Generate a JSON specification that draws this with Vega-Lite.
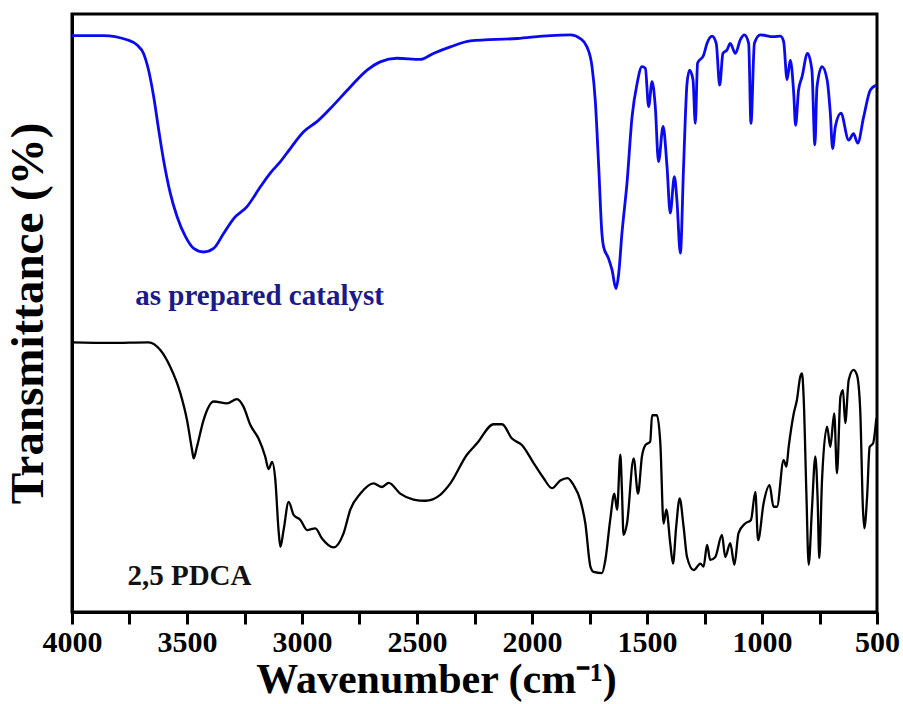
{
  "$schema": "https://vega.github.io/schema/vega-lite/v6.json",
  "width": 805,
  "height": 598,
  "autosize": {"type": "none"},
  "padding": {"left": 72, "top": 14, "right": 26, "bottom": 92},
  "background": "white",
  "config": {"view": {"stroke": "black", "strokeWidth": 3}, "font": "Liberation Serif"},
  "datasets": {
    "spectra": [
      {"sample":"catalyst","wn":4000,"t":96.4},{"sample":"catalyst","wn":3864,"t":96.4},{"sample":"catalyst","wn":3761,"t":95.7},{"sample":"catalyst","wn":3717,"t":94.8},{"sample":"catalyst","wn":3689,"t":93.4},{"sample":"catalyst","wn":3667,"t":90.6},{"sample":"catalyst","wn":3645,"t":86.2},{"sample":"catalyst","wn":3623,"t":80.6},{"sample":"catalyst","wn":3602,"t":75.6},{"sample":"catalyst","wn":3573,"t":70.1},{"sample":"catalyst","wn":3543,"t":66.1},{"sample":"catalyst","wn":3507,"t":62.8},{"sample":"catalyst","wn":3471,"t":60.8},{"sample":"catalyst","wn":3428,"t":60.2},{"sample":"catalyst","wn":3384,"t":60.8},{"sample":"catalyst","wn":3341,"t":63.3},{"sample":"catalyst","wn":3297,"t":65.8},{"sample":"catalyst","wn":3239,"t":67.8},{"sample":"catalyst","wn":3181,"t":71.1},{"sample":"catalyst","wn":3138,"t":73.4},{"sample":"catalyst","wn":3094,"t":75.3},{"sample":"catalyst","wn":3051,"t":77.5},{"sample":"catalyst","wn":2993,"t":80.3},{"sample":"catalyst","wn":2935,"t":82.0},{"sample":"catalyst","wn":2877,"t":84.2},{"sample":"catalyst","wn":2790,"t":87.8},{"sample":"catalyst","wn":2717,"t":90.6},{"sample":"catalyst","wn":2660,"t":92.0},{"sample":"catalyst","wn":2587,"t":92.6},{"sample":"catalyst","wn":2486,"t":92.4},{"sample":"catalyst","wn":2429,"t":93.4},{"sample":"catalyst","wn":2355,"t":94.5},{"sample":"catalyst","wn":2268,"t":95.5},{"sample":"catalyst","wn":2065,"t":95.9},{"sample":"catalyst","wn":1920,"t":96.4},{"sample":"catalyst","wn":1833,"t":96.5},{"sample":"catalyst","wn":1790,"t":95.9},{"sample":"catalyst","wn":1761,"t":94.5},{"sample":"catalyst","wn":1739,"t":91.2},{"sample":"catalyst","wn":1725,"t":85.6},{"sample":"catalyst","wn":1710,"t":74.5},{"sample":"catalyst","wn":1696,"t":63.3},{"sample":"catalyst","wn":1689,"t":61.1},{"sample":"catalyst","wn":1667,"t":59.1},{"sample":"catalyst","wn":1652,"t":57.2},{"sample":"catalyst","wn":1635,"t":54.1},{"sample":"catalyst","wn":1623,"t":56.6},{"sample":"catalyst","wn":1609,"t":63.3},{"sample":"catalyst","wn":1587,"t":71.7},{"sample":"catalyst","wn":1565,"t":82.8},{"sample":"catalyst","wn":1543,"t":88.4},{"sample":"catalyst","wn":1522,"t":91.2},{"sample":"catalyst","wn":1507,"t":90.9},{"sample":"catalyst","wn":1493,"t":84.5},{"sample":"catalyst","wn":1478,"t":88.7},{"sample":"catalyst","wn":1464,"t":84.5},{"sample":"catalyst","wn":1450,"t":75.3},{"sample":"catalyst","wn":1430,"t":81.2},{"sample":"catalyst","wn":1413,"t":74.5},{"sample":"catalyst","wn":1399,"t":66.7},{"sample":"catalyst","wn":1381,"t":72.8},{"sample":"catalyst","wn":1370,"t":68.9},{"sample":"catalyst","wn":1355,"t":60.0},{"sample":"catalyst","wn":1341,"t":74.5},{"sample":"catalyst","wn":1326,"t":88.4},{"sample":"catalyst","wn":1315,"t":90.6},{"sample":"catalyst","wn":1300,"t":89.0},{"sample":"catalyst","wn":1290,"t":81.7},{"sample":"catalyst","wn":1280,"t":91.8},{"sample":"catalyst","wn":1254,"t":93.1},{"sample":"catalyst","wn":1239,"t":95.1},{"sample":"catalyst","wn":1217,"t":96.3},{"sample":"catalyst","wn":1199,"t":95.1},{"sample":"catalyst","wn":1184,"t":88.1},{"sample":"catalyst","wn":1170,"t":93.4},{"sample":"catalyst","wn":1152,"t":94.0},{"sample":"catalyst","wn":1138,"t":95.1},{"sample":"catalyst","wn":1116,"t":93.4},{"sample":"catalyst","wn":1094,"t":95.7},{"sample":"catalyst","wn":1077,"t":96.5},{"sample":"catalyst","wn":1058,"t":95.1},{"sample":"catalyst","wn":1048,"t":81.7},{"sample":"catalyst","wn":1033,"t":95.1},{"sample":"catalyst","wn":1007,"t":96.5},{"sample":"catalyst","wn":950,"t":96.2},{"sample":"catalyst","wn":920,"t":96.3},{"sample":"catalyst","wn":906,"t":95.4},{"sample":"catalyst","wn":891,"t":89.0},{"sample":"catalyst","wn":877,"t":92.3},{"sample":"catalyst","wn":862,"t":86.7},{"sample":"catalyst","wn":854,"t":81.4},{"sample":"catalyst","wn":841,"t":87.3},{"sample":"catalyst","wn":826,"t":89.5},{"sample":"catalyst","wn":802,"t":93.4},{"sample":"catalyst","wn":783,"t":90.6},{"sample":"catalyst","wn":770,"t":78.1},{"sample":"catalyst","wn":761,"t":87.8},{"sample":"catalyst","wn":739,"t":91.2},{"sample":"catalyst","wn":717,"t":89.0},{"sample":"catalyst","wn":703,"t":83.4},{"sample":"catalyst","wn":693,"t":77.5},{"sample":"catalyst","wn":681,"t":81.2},{"sample":"catalyst","wn":657,"t":83.4},{"sample":"catalyst","wn":623,"t":78.9},{"sample":"catalyst","wn":602,"t":80.0},{"sample":"catalyst","wn":584,"t":78.4},{"sample":"catalyst","wn":558,"t":82.8},{"sample":"catalyst","wn":529,"t":87.3},{"sample":"catalyst","wn":503,"t":88.1},
      {"sample":"PDCA","wn":4000,"t":45.1},{"sample":"PDCA","wn":3833,"t":45.0},{"sample":"PDCA","wn":3667,"t":45.1},{"sample":"PDCA","wn":3616,"t":43.8},{"sample":"PDCA","wn":3573,"t":41.0},{"sample":"PDCA","wn":3529,"t":36.6},{"sample":"PDCA","wn":3500,"t":32.1},{"sample":"PDCA","wn":3478,"t":27.1},{"sample":"PDCA","wn":3471,"t":25.7},{"sample":"PDCA","wn":3457,"t":27.6},{"sample":"PDCA","wn":3428,"t":32.1},{"sample":"PDCA","wn":3384,"t":35.2},{"sample":"PDCA","wn":3326,"t":34.9},{"sample":"PDCA","wn":3283,"t":35.6},{"sample":"PDCA","wn":3254,"t":34.3},{"sample":"PDCA","wn":3225,"t":31.3},{"sample":"PDCA","wn":3189,"t":29.0},{"sample":"PDCA","wn":3160,"t":26.0},{"sample":"PDCA","wn":3145,"t":23.9},{"sample":"PDCA","wn":3130,"t":25.1},{"sample":"PDCA","wn":3116,"t":22.1},{"sample":"PDCA","wn":3102,"t":13.7},{"sample":"PDCA","wn":3094,"t":10.9},{"sample":"PDCA","wn":3080,"t":13.7},{"sample":"PDCA","wn":3058,"t":18.4},{"sample":"PDCA","wn":3036,"t":16.2},{"sample":"PDCA","wn":3007,"t":15.4},{"sample":"PDCA","wn":2978,"t":13.7},{"sample":"PDCA","wn":2942,"t":14.0},{"sample":"PDCA","wn":2913,"t":12.3},{"sample":"PDCA","wn":2863,"t":10.8},{"sample":"PDCA","wn":2819,"t":13.2},{"sample":"PDCA","wn":2790,"t":17.1},{"sample":"PDCA","wn":2746,"t":19.8},{"sample":"PDCA","wn":2689,"t":21.5},{"sample":"PDCA","wn":2652,"t":20.9},{"sample":"PDCA","wn":2623,"t":21.6},{"sample":"PDCA","wn":2573,"t":19.8},{"sample":"PDCA","wn":2515,"t":18.8},{"sample":"PDCA","wn":2464,"t":18.6},{"sample":"PDCA","wn":2399,"t":19.6},{"sample":"PDCA","wn":2355,"t":21.5},{"sample":"PDCA","wn":2283,"t":26.3},{"sample":"PDCA","wn":2239,"t":28.2},{"sample":"PDCA","wn":2167,"t":31.4},{"sample":"PDCA","wn":2130,"t":31.4},{"sample":"PDCA","wn":2087,"t":29.0},{"sample":"PDCA","wn":2043,"t":27.9},{"sample":"PDCA","wn":1993,"t":24.9},{"sample":"PDCA","wn":1950,"t":22.4},{"sample":"PDCA","wn":1913,"t":20.7},{"sample":"PDCA","wn":1877,"t":22.0},{"sample":"PDCA","wn":1845,"t":22.4},{"sample":"PDCA","wn":1819,"t":21.2},{"sample":"PDCA","wn":1790,"t":18.7},{"sample":"PDCA","wn":1768,"t":14.8},{"sample":"PDCA","wn":1746,"t":7.6},{"sample":"PDCA","wn":1732,"t":6.7},{"sample":"PDCA","wn":1696,"t":6.5},{"sample":"PDCA","wn":1681,"t":8.7},{"sample":"PDCA","wn":1660,"t":15.4},{"sample":"PDCA","wn":1642,"t":19.8},{"sample":"PDCA","wn":1630,"t":17.1},{"sample":"PDCA","wn":1616,"t":26.3},{"sample":"PDCA","wn":1609,"t":20.4},{"sample":"PDCA","wn":1602,"t":12.9},{"sample":"PDCA","wn":1587,"t":14.8},{"sample":"PDCA","wn":1558,"t":25.7},{"sample":"PDCA","wn":1539,"t":19.8},{"sample":"PDCA","wn":1522,"t":26.0},{"sample":"PDCA","wn":1507,"t":27.9},{"sample":"PDCA","wn":1486,"t":28.5},{"sample":"PDCA","wn":1478,"t":32.9},{"sample":"PDCA","wn":1457,"t":32.9},{"sample":"PDCA","wn":1442,"t":28.2},{"sample":"PDCA","wn":1428,"t":14.8},{"sample":"PDCA","wn":1416,"t":17.1},{"sample":"PDCA","wn":1399,"t":11.5},{"sample":"PDCA","wn":1387,"t":8.1},{"sample":"PDCA","wn":1373,"t":14.3},{"sample":"PDCA","wn":1358,"t":19.0},{"sample":"PDCA","wn":1341,"t":14.3},{"sample":"PDCA","wn":1326,"t":9.2},{"sample":"PDCA","wn":1297,"t":7.0},{"sample":"PDCA","wn":1268,"t":8.1},{"sample":"PDCA","wn":1254,"t":7.6},{"sample":"PDCA","wn":1239,"t":11.2},{"sample":"PDCA","wn":1225,"t":8.7},{"sample":"PDCA","wn":1203,"t":9.2},{"sample":"PDCA","wn":1174,"t":12.9},{"sample":"PDCA","wn":1160,"t":9.2},{"sample":"PDCA","wn":1138,"t":11.5},{"sample":"PDCA","wn":1120,"t":7.9},{"sample":"PDCA","wn":1102,"t":13.2},{"sample":"PDCA","wn":1073,"t":14.8},{"sample":"PDCA","wn":1048,"t":15.4},{"sample":"PDCA","wn":1029,"t":20.1},{"sample":"PDCA","wn":1017,"t":12.0},{"sample":"PDCA","wn":993,"t":18.2},{"sample":"PDCA","wn":967,"t":21.2},{"sample":"PDCA","wn":950,"t":17.6},{"sample":"PDCA","wn":935,"t":17.6},{"sample":"PDCA","wn":906,"t":25.4},{"sample":"PDCA","wn":894,"t":24.3},{"sample":"PDCA","wn":884,"t":27.6},{"sample":"PDCA","wn":862,"t":33.2},{"sample":"PDCA","wn":848,"t":35.5},{"sample":"PDCA","wn":834,"t":39.3},{"sample":"PDCA","wn":826,"t":39.9},{"sample":"PDCA","wn":819,"t":36.0},{"sample":"PDCA","wn":807,"t":19.8},{"sample":"PDCA","wn":797,"t":7.9},{"sample":"PDCA","wn":783,"t":17.1},{"sample":"PDCA","wn":768,"t":26.0},{"sample":"PDCA","wn":758,"t":18.7},{"sample":"PDCA","wn":751,"t":9.0},{"sample":"PDCA","wn":739,"t":22.1},{"sample":"PDCA","wn":717,"t":31.0},{"sample":"PDCA","wn":703,"t":27.6},{"sample":"PDCA","wn":686,"t":33.2},{"sample":"PDCA","wn":674,"t":23.2},{"sample":"PDCA","wn":659,"t":36.0},{"sample":"PDCA","wn":648,"t":37.1},{"sample":"PDCA","wn":638,"t":31.6},{"sample":"PDCA","wn":623,"t":38.8},{"sample":"PDCA","wn":602,"t":40.5},{"sample":"PDCA","wn":587,"t":39.6},{"sample":"PDCA","wn":573,"t":33.8},{"sample":"PDCA","wn":561,"t":17.1},{"sample":"PDCA","wn":555,"t":14.0},{"sample":"PDCA","wn":543,"t":19.3},{"sample":"PDCA","wn":532,"t":27.6},{"sample":"PDCA","wn":517,"t":28.2},{"sample":"PDCA","wn":503,"t":32.4}
    ],
    "labels": [
      {"label": "as prepared catalyst", "wn": 3725, "t": 51.3},
      {"label": "2,5 PDCA", "wn": 3759, "t": 4.5}
    ]
  },
  "layer": [
    {
      "data": {"name": "spectra"},
      "mark": {"type": "line", "interpolate": "monotone"},
      "encoding": {
        "x": {
          "field": "wn", "type": "quantitative",
          "scale": {"domain": [500, 4000], "reverse": true, "nice": false, "zero": false},
          "axis": {
            "values": [4000, 3750, 3500, 3250, 3000, 2750, 2500, 2250, 2000, 1750, 1500, 1250, 1000, 750, 500],
            "format": "d",
            "labelExpr": "datum.value % 500 === 0 ? datum.label : ''",
            "labelFont": "Liberation Serif", "labelFontWeight": "bold", "labelFontSize": 30, "labelColor": "black",
            "labelPadding": 3, "labelOverlap": false, "labelFlush": false,
            "tickColor": "black", "tickWidth": 3, "tickSize": 12,
            "domainColor": "black", "domainWidth": 3, "grid": false,
            "title": "Wavenumber (cm⁻¹)",
            "titleFont": "Liberation Serif", "titleFontWeight": "bold", "titleFontSize": 42, "titleColor": "black",
            "titleX": 364, "titleY": 80, "titleBaseline": "alphabetic", "titleAlign": "center",
            "encode": {"ticks": {"update": {"y2": {"signal": "datum.value % 500 === 0 ? 12 : 8"}}}}
          }
        },
        "y": {
          "field": "t", "type": "quantitative",
          "scale": {"domain": [0, 100], "nice": false},
          "axis": {
            "title": "Transmittance (%)", "ticks": false, "labels": false, "grid": false,
            "domainColor": "black", "domainWidth": 3,
            "titleFont": "Liberation Serif", "titleFontWeight": "bold", "titleFontSize": 47, "titleColor": "black",
            "titlePadding": 20
          }
        },
        "color": {"field": "sample", "type": "nominal", "scale": {"domain": ["catalyst", "PDCA"], "range": ["#0a0af0", "#000000"]}, "legend": null},
        "strokeWidth": {"field": "sample", "type": "nominal", "scale": {"domain": ["catalyst", "PDCA"], "range": [2.8, 2.3]}, "legend": null}
      }
    },
    {
      "data": {"name": "labels"},
      "transform": [{"filter": "datum.label === 'as prepared catalyst'"}],
      "mark": {"type": "text", "align": "left", "baseline": "alphabetic", "font": "Liberation Serif", "fontWeight": "bold", "fontSize": 29, "color": "#1a1a8a"},
      "encoding": {
        "x": {"field": "wn", "type": "quantitative"},
        "y": {"field": "t", "type": "quantitative"},
        "text": {"field": "label"}
      }
    },
    {
      "data": {"name": "labels"},
      "transform": [{"filter": "datum.label === '2,5 PDCA'"}],
      "mark": {"type": "text", "align": "left", "baseline": "alphabetic", "font": "Liberation Serif", "fontWeight": "bold", "fontSize": 29, "color": "#111111"},
      "encoding": {
        "x": {"field": "wn", "type": "quantitative"},
        "y": {"field": "t", "type": "quantitative"},
        "text": {"field": "label"}
      }
    }
  ]
}
